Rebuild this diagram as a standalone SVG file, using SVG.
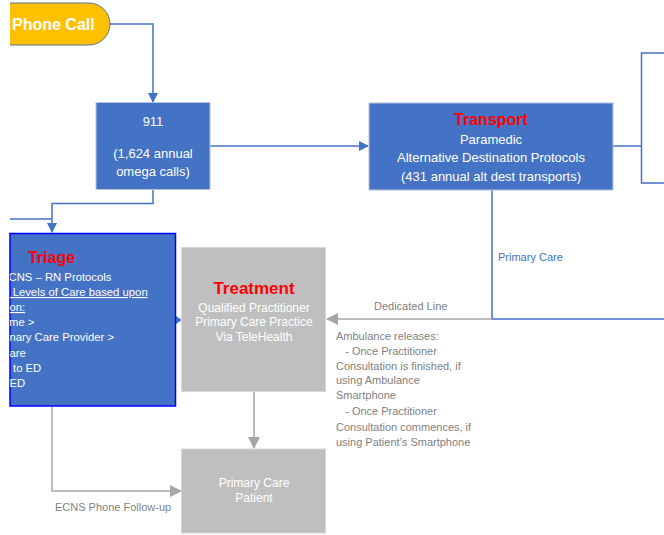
<svg xmlns="http://www.w3.org/2000/svg" width="664" height="535" viewBox="0 0 664 535">
<style>
text{font-family:"Liberation Sans",Arial,sans-serif}
.w{fill:#fff;font-size:12px;text-anchor:middle}
.w13{font-size:13px}
.ttl{fill:#ff0000;font-size:16px;font-weight:bold;text-anchor:middle}
.g{fill:#7f7f7f;font-size:11px}
.bl{fill:none;stroke:#4472c4;stroke-width:1.5}
.gl{fill:none;stroke:#a6a6a6;stroke-width:1.5}
.tl{fill:#fff;font-size:11.3px}
</style>
<defs>
<marker id="ab" markerWidth="10" markerHeight="10" refX="9" refY="5" orient="auto" markerUnits="userSpaceOnUse"><path d="M0,0 L10,5 L0,10 z" fill="#4472c4"/></marker>
<marker id="ag" markerWidth="12" markerHeight="12" refX="11" refY="6" orient="auto" markerUnits="userSpaceOnUse"><path d="M0,0 L12,6 L0,12 z" fill="#a6a6a6"/></marker>
<clipPath id="cl"><rect x="10" y="0" width="654" height="535"/></clipPath>
</defs>
<g id="connectors">
<path class="bl" d="M110,24 H153 V102" marker-end="url(#ab)"/>
<path class="bl" d="M210,146 H368" marker-end="url(#ab)"/>
<path class="bl" d="M153,190 V203.5 H52 V232" marker-end="url(#ab)"/>
<path class="bl" d="M10,219 H52"/>
<path class="bl" d="M613,146 H641.5"/>
<path class="bl" d="M492,190 V319 H664"/>
<path class="gl" d="M492,319 H327" marker-end="url(#ag)"/>
<path class="bl" d="M176,320 H182" />
<path d="M176,316 L182,320 L176,324 z" fill="#4472c4"/>
<path class="gl" d="M254,392 V448" marker-end="url(#ag)"/>
<path class="gl" d="M52,407 V491 H181" marker-end="url(#ag)"/>
<text class="g" x="374" y="310">Dedicated Line</text>
<text x="498" y="261" style="fill:#4472c4;font-size:11px">Primary Care</text>
<text class="g" x="55" y="511">ECNS Phone Follow-up</text>
<g class="g">
<text x="336" y="340">Ambulance releases:</text>
<text x="336" y="355" xml:space="preserve">   - Once Practitioner</text>
<text x="336" y="370">Consultation is finished, if</text>
<text x="336" y="384">using Ambulance</text>
<text x="336" y="399">Smartphone</text>
<text x="336" y="415" xml:space="preserve">   - Once Practitioner</text>
<text x="336" y="431">Consultation commences, if</text>
<text x="336" y="446">using Patient’s Smartphone</text>
</g>
</g>
<g id="phone-call">
<path d="M10,3 H89 A21,21 0 0 1 89,45 H10" fill="#ffc000" stroke="#5a7596" stroke-width="1"/>
<text x="12" y="30" style="fill:#fff;font-size:16px;font-weight:bold">Phone Call</text>
</g>
<g id="n911">
<rect x="96" y="102.5" width="114" height="87" fill="#4472c4" stroke="#b4c3de" stroke-width="1"/>
<text class="w w13" x="153" y="126">911</text>
<text class="w w13" x="153" y="158">(1,624 annual</text>
<text class="w w13" x="153" y="176">omega calls)</text>
</g>
<g id="transport">
<rect x="369" y="103" width="244" height="87" fill="#4472c4" stroke="#b4c3de" stroke-width="1"/>
<text class="ttl" x="491" y="125">Transport</text>
<text class="w w13" x="491" y="143.5">Paramedic</text>
<text class="w w13" x="491" y="161.5">Alternative Destination Protocols</text>
<text class="w w13" x="491" y="180.5">(431 annual alt dest transports)</text>
</g>
<g id="right-box">
<path class="bl" d="M664,53 H641.5 V183 H664"/>
</g>
<g id="triage">
<rect x="10" y="233.5" width="165.5" height="172.5" fill="#4472c4" stroke="#0000ff" stroke-width="1.5"/>
<g clip-path="url(#cl)">
<text class="ttl" x="51.5" y="263">Triage</text>
<text class="tl" x="8.5" y="281">CNS – RN Protocols</text>
<text class="tl" x="7" y="296" text-decoration="underline">l Levels of Care based upon</text>
<text class="tl" x="9.5" y="311" text-decoration="underline">on:</text>
<text class="tl" x="9" y="326">me &gt;</text>
<text class="tl" x="9.5" y="341">nary Care Provider &gt;</text>
<text class="tl" x="9.5" y="357">are</text>
<text class="tl" x="13" y="372">to ED</text>
<text class="tl" x="9.5" y="387">ED</text>
</g>
</g>
<g id="treatment">
<rect x="181.5" y="247.5" width="144" height="144" fill="#bfbfbf" stroke="#d6d6d6" stroke-width="1"/>
<text class="ttl" x="254" y="294" style="font-size:17px">Treatment</text>
<text class="w" x="254" y="312">Qualified Practitioner</text>
<text class="w" x="254" y="326">Primary Care Practice</text>
<text class="w" x="254" y="341">Via TeleHealth</text>
</g>
<g id="primary-care-patient">
<rect x="181.5" y="449" width="144" height="84" fill="#bfbfbf" stroke="#d6d6d6" stroke-width="1"/>
<text class="w" x="254" y="487">Primary Care</text>
<text class="w" x="254" y="502">Patient</text>
</g>
</svg>
